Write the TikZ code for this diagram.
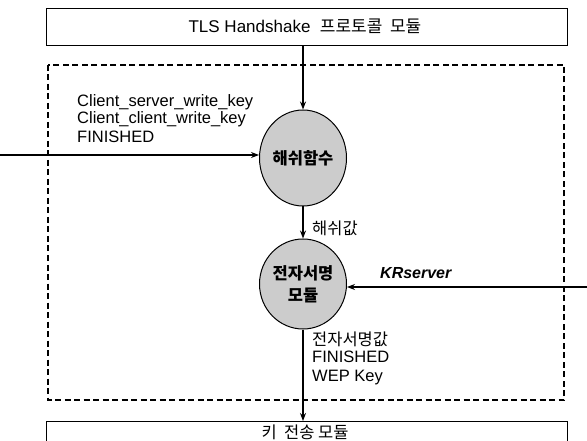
\documentclass[tikz,border=0pt]{standalone}
\usepackage{fontspec}
\setmainfont{Liberation Sans}
\newfontfamily\kr{Noto Sans CJK KR}
\usetikzlibrary{arrows.meta,shapes.geometric}
\begin{document}
\begin{tikzpicture}[x=1pt,y=-1pt,
  box/.style={draw,line width=1.4pt,anchor=north west,inner sep=0pt},
  proc/.style={draw,ellipse,line width=1pt,fill=black!20,minimum width=87pt,inner sep=0pt,align=center,font=\kr\bfseries\fontsize{16.5}{22}\selectfont},
  arr/.style={line width=1.3pt,-{Stealth[length=8pt,width=6pt]}},
  lbl/.style={font=\fontsize{16.5}{18}\selectfont,inner sep=0pt,align=left},
  klbl/.style={font=\kr\fontsize{16.5}{18}\selectfont,inner sep=0pt,align=left}]
\useasboundingbox (0,0) rectangle (587,441);
\clip (0,0) rectangle (587,441);
\node[box,minimum width=521pt,minimum height=37pt] (top) at (46,8) {};
\node[font=\fontsize{17}{18}\selectfont] (toptxt) at (305,26) {TLS Handshake\ \ {\kr 프로토콜\ \ 모듈}};
\draw[line width=1.1pt,dash pattern=on 6pt off 3.5pt] (48,65) rectangle (564,400);
\node[box,minimum width=521pt,minimum height=60pt] (bot) at (46,421) {};
\node[klbl] (bottxt) at (305,432) {키\ \ 전송 모듈};
\node[proc,minimum height=96pt] (hash) at (303,158) {해쉬함수};
\node[proc,minimum height=90pt] (sig) at (303,284) {전자서명\\모듈};
\coordinate (inL) at (0,155);
\coordinate (inR) at (587,287);
\draw[arr] (top.south -| hash.north) -- (hash.north);
\draw[arr] (inL) -- (inL -| hash.west);
\draw[arr] (hash.south) -- (sig.north);
\draw[arr] (inR) -- (inR -| sig.east);
\draw[arr] (sig.south) -- (bot.north -| sig.south);
\node[lbl,anchor=base west] (l1a) at (77,107) {Client\_server\_write\_key};
\node[lbl,anchor=base west] (l1b) at (77,124) {Client\_client\_write\_key};
\node[lbl,anchor=base west] (l2) at (77,143) {FINISHED};
\node[klbl,anchor=west] (l3) at (312,228) {해쉬값};
\node[lbl,anchor=base west,font=\bfseries\itshape\fontsize{16}{18}\selectfont] (l4) at (380,279) {KRserver};
\node[klbl,anchor=north west] (l5) at (312,332) {전자서명값};
\node[lbl,anchor=north west,font=\fontsize{16.5}{19}\selectfont] (l6) at (312,351) {FINISHED\\WEP Key};
\end{tikzpicture}
\end{document}
